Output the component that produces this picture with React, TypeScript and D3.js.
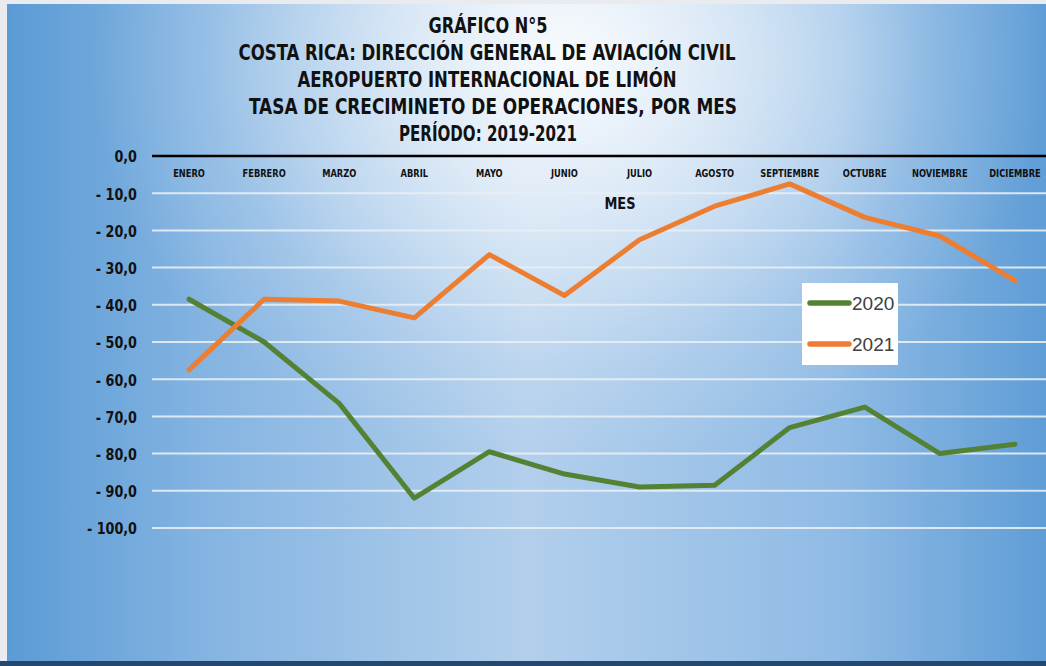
import React from "react";
import * as d3 from "d3";

const months = ["ENERO","FEBRERO","MARZO","ABRIL","MAYO","JUNIO","JULIO","AGOSTO","SEPTIEMBRE","OCTUBRE","NOVIEMBRE","DICIEMBRE"];
const values2020 = [-38.5,-50,-66.5,-92,-79.5,-85.5,-89,-88.5,-73,-67.5,-80,-77.5];
const values2021 = [-57.5,-38.5,-39,-43.5,-26.5,-37.5,-22.5,-13.5,-7.5,-16.5,-21.5,-33.5];
const yTicks = [0,-10,-20,-30,-40,-50,-60,-70,-80,-90,-100];
const seriesNames = ["2020","2021"];
const titleLines = [
  "GRÁFICO N°5",
  "COSTA RICA: DIRECCIÓN GENERAL DE AVIACIÓN CIVIL",
  "AEROPUERTO INTERNACIONAL DE LIMÓN",
  "TASA DE CRECIMINETO DE  OPERACIONES, POR  MES",
  "PERÍODO: 2019-2021",
];
const titleWidths = [119, 497, 379, 488, 178];
const titleCenters = [488, 487, 487, 493, 488];

const W = 1046, H = 666;
const FONT = "'Liberation Sans Narrow','Arial Narrow','DejaVu Sans Condensed','Liberation Sans',Arial,sans-serif";

export default function App() {
  const x = d3.scalePoint<string>().domain(months).range([151.5, 1052.5]).padding(0.5);
  const y = d3.scaleLinear().domain([-100, 0]).range([528, 156]);
  const line = d3.line<number>().x((_, i) => x(months[i]) as number).y(d => y(d));
  const colors = ["#548235", "#ED7D31"];
  const fmt = (v: number) => (v === 0 ? "0,0" : "- " + Math.abs(v).toFixed(1).replace(".", ","));

  return (
    <svg width={W} height={H} style={{ position: "absolute", left: 0, top: 0, display: "block" }}>
      <defs>
        <linearGradient id="bgH" x1="0" x2="1" y1="0" y2="0">
          <stop offset="0" stopColor="#5b9bd5" />
          <stop offset="0.2" stopColor="#86b5e2" />
          <stop offset="0.5" stopColor="#b2cfec" />
          <stop offset="0.8" stopColor="#90bbe5" />
          <stop offset="1" stopColor="#5f9dd6" />
        </linearGradient>
        <radialGradient id="glow" gradientUnits="userSpaceOnUse" cx={570} cy={60} r={480}
          gradientTransform="translate(570,60) scale(1,0.85) translate(-570,-60)">
          <stop offset="0" stopColor="#ffffff" stopOpacity={0.92} />
          <stop offset="0.35" stopColor="#ffffff" stopOpacity={0.6} />
          <stop offset="0.75" stopColor="#ffffff" stopOpacity={0.15} />
          <stop offset="1" stopColor="#ffffff" stopOpacity={0} />
        </radialGradient>
      </defs>
      <rect x={0} y={0} width={W} height={H} fill="#e9ebee" />
      <rect x={7} y={4} width={W - 7} height={657} fill="url(#bgH)" />
      <rect x={7} y={4} width={W - 7} height={657} fill="url(#glow)" />
      <rect x={0} y={661} width={W} height={5} fill="#23476e" />

      {titleLines.map((t, i) => (
        <text key={i} x={titleCenters[i]} y={25 + i * 27} textAnchor="middle" dominantBaseline="central"
          fontFamily={FONT} fontWeight="bold" fontSize={22} fill="#111"
          textLength={titleWidths[i]} lengthAdjust="spacingAndGlyphs">{t}</text>
      ))}

      {yTicks.filter(t => t !== 0).map(t => (
        <line key={t} x1={152} x2={W} y1={y(t)} y2={y(t)} stroke="#e8eef4" strokeOpacity={0.9} strokeWidth={2} />
      ))}
      <line x1={152} x2={W} y1={y(0)} y2={y(0)} stroke="#000" strokeWidth={2.5} />

      {yTicks.map(t => (
        <text key={t} transform={`translate(137,${y(t) + 1}) scale(0.86,1)`} textAnchor="end" dominantBaseline="central"
          fontFamily={FONT} fontWeight="bold" fontSize={16.5} fill="#111">{fmt(t)}</text>
      ))}

      {months.map(m => (
        <text key={m} transform={`translate(${x(m)},173) scale(0.88,1)`} textAnchor="middle" dominantBaseline="central"
          fontFamily={FONT} fontWeight="bold" fontSize={10.5} fill="#111">{m}</text>
      ))}
      <text transform="translate(620,204) scale(0.9,1)" textAnchor="middle" dominantBaseline="central"
        fontFamily={FONT} fontWeight="bold" fontSize={16} fill="#111">MES</text>

      {[values2020, values2021].map((vals, i) => (
        <path key={i} d={line(vals) || ""} fill="none" stroke={colors[i]} strokeWidth={5} strokeLinejoin="round" strokeLinecap="round" />
      ))}

      <rect x={802} y={283} width={96} height={82} fill="#ffffff" />
      {seriesNames.map((n, i) => (
        <g key={n}>
          <line x1={810} x2={849} y1={303 + i * 41} y2={303 + i * 41} stroke={colors[i]} strokeWidth={5.5} strokeLinecap="round" />
          <text x={852} y={303 + i * 41} dominantBaseline="central" fontFamily="'Liberation Sans',Arial,sans-serif"
            fontSize={19} fill="#404040">{n}</text>
        </g>
      ))}
    </svg>
  );
}
